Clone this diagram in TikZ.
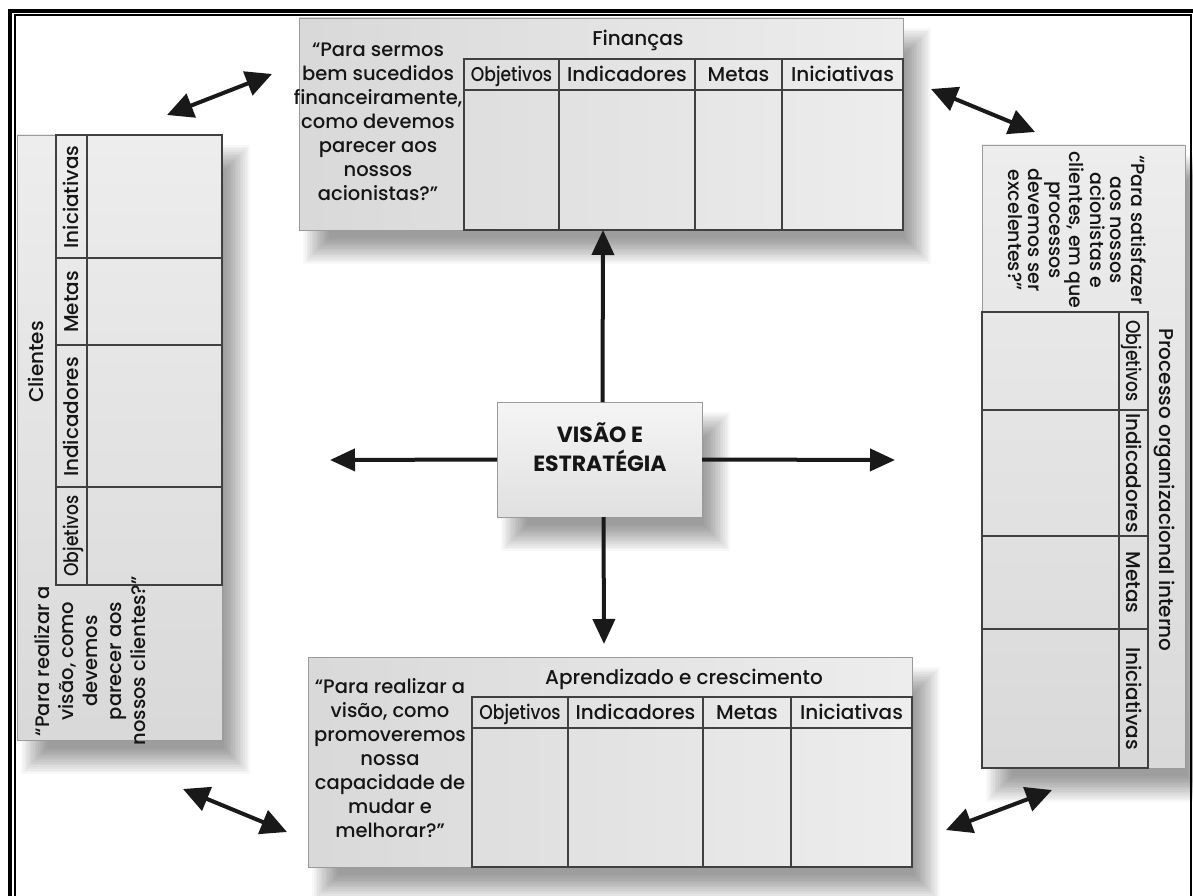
\documentclass[tikz,border=0pt]{standalone}
\usepackage{fontspec}
\setmainfont{Poppins}[UprightFont=* Medium, BoldFont=* Bold]
\usepackage{graphicx}
\usetikzlibrary{arrows.meta}
\definecolor{txt}{HTML}{151515}
\definecolor{tline}{HTML}{404040}
\definecolor{bline}{HTML}{9A9A9A}
\newcommand\softshadow[4]{%
  \foreach \k in {0,...,15}{%
    \pgfmathsetmacro\rr{(\k-8)*1.7}%
    \fill[black,opacity=0.028] ({#1+16-\rr},{#2+22-\rr}) rectangle ({#3+16+\rr},{#4+22+\rr});}}
\begin{document}
\begin{tikzpicture}[x=1pt,y=-1pt,
  hbox/.style={draw=bline, line width=0.9pt, left color=gray!30, right color=gray!14, inner sep=0pt, outer sep=0pt},
  vbox/.style={draw=bline, line width=0.9pt, top color=gray!14, bottom color=gray!30, inner sep=0pt, outer sep=0pt},
  tl/.style={draw=tline, line width=1.1pt},
  hd/.style={font=\fontsize{20}{24}\selectfont, text=txt, inner sep=0pt, text height=14.5pt, text depth=0pt, anchor=center},
  qt/.style={font=\fontsize{19.5}{24}\selectfont, text=txt, inner sep=0pt, align=center},
  arr/.style={line width=4pt, draw=black!90, -{Triangle[length=25pt,width=22pt]}},
  dbl/.style={line width=4pt, draw=black!90, {Triangle[length=26pt,width=25pt]}-{Triangle[length=26pt,width=25pt]}}]
\useasboundingbox (0,0) rectangle (1193,896);
\clip (0,0) rectangle (1193,896);
\fill[white] (0,0) rectangle (1193,896);

% frame
\draw[line width=3.8pt] (10.2,10.8) rectangle (1197,915);
\draw[line width=2pt] (15,15) rectangle (1191.3,905);

% shadows
\softshadow{299}{18}{903}{230}
\softshadow{308}{657}{912}{867}
\softshadow{17}{135}{222}{740}
\softshadow{982}{145}{1185}{768}
\softshadow{497}{402}{702}{517}

% ---------- Financas ----------
\node[hbox, minimum width=604pt, minimum height=212pt] (fin) at (601,124) {};
\draw[tl] (464,59) rectangle (903,230);
\draw[tl] (464,90) -- (903,90);
\foreach \x in {559,695,782} \draw[tl] (\x,59) -- (\x,230);
\node[hd] (finT) at (638,38) {Finanças};
\node[hd] (finO) at (511.5,74.5) {\scalebox{0.86}[1]{Objetivos}};
\node[hd] (finI) at (627,74.5) {Indicadores};
\node[hd] (finM) at (738.5,74.5) {Metas};
\node[hd] (finN) at (842.5,74.5) {Iniciativas};
\node[qt] (finQ) at (378,122) {“Para sermos\\bem sucedidos\\financeiramente,\\como devemos\\parecer aos\\nossos\\acionistas?”};

% ---------- Aprendizado ----------
\node[hbox, minimum width=604pt, minimum height=210pt] (apr) at (610,762) {};
\draw[tl] (472,697) rectangle (912,867);
\draw[tl] (472,728) -- (912,728);
\foreach \x in {568,703,791} \draw[tl] (\x,697) -- (\x,867);
\node[hd] (aprT) at (684,677) {Aprendizado e crescimento};
\node[hd] (aprO) at (520,712.5) {\scalebox{0.86}[1]{Objetivos}};
\node[hd] (aprI) at (635.5,712.5) {Indicadores};
\node[hd] (aprM) at (747,712.5) {Metas};
\node[hd] (aprN) at (851.5,712.5) {Iniciativas};
\node[qt] (aprQ) at (390,758) {“Para realizar a\\visão, como\\promoveremos\\nossa\\capacidade de\\mudar e\\melhorar?”};

% ---------- Clientes (left) ----------
\node[vbox, minimum width=205pt, minimum height=605pt] (cli) at (119.5,437.5) {};
\draw[tl] (56,135) rectangle (222,585);
\draw[tl] (87,135) -- (87,585);
\foreach \y in {258,345,487} \draw[tl] (56,\y) -- (222,\y);
\node[hd, rotate=90] (cliT) at (36.5,362) {Clientes};
\node[hd, rotate=90] (cliN) at (71.5,197) {Iniciativas};
\node[hd, rotate=90] (cliM) at (71.5,302) {Metas};
\node[hd, rotate=90] (cliI) at (71.5,417) {Indicadores};
\node[hd, rotate=90] (cliO) at (71.5,536) {\scalebox{0.86}[1]{Objetivos}};
\node[qt, rotate=90] (cliQ) at (90,661) {“Para realizar a\\visão, como\\devemos\\parecer aos\\nossos clientes?”};

% ---------- Processo (right) ----------
\node[vbox, minimum width=203pt, minimum height=623pt] (proc) at (1083.5,456.5) {};
\draw[tl] (982,312) rectangle (1148,768);
\draw[tl] (1119,312) -- (1119,768);
\foreach \y in {410,536,629} \draw[tl] (982,\y) -- (1148,\y);
\node[hd, rotate=-90] (procT) at (1166.5,490) {Processo organizacional interno};
\node[hd, rotate=-90] (procO) at (1133.5,361) {\scalebox{0.86}[1]{Objetivos}};
\node[hd, rotate=-90] (procI) at (1133.5,473) {Indicadores};
\node[hd, rotate=-90] (procM) at (1133.5,582.5) {Metas};
\node[hd, rotate=-90] (procN) at (1133.5,698.5) {Iniciativas};
\node[qt, rotate=-90, font=\fontsize{19}{20.5}\selectfont] (procQ) at (1077,230) {“Para satisfazer\\aos nossos\\acionistas e\\clientes, em que\\processos\\devemos ser\\excelentes?”};

% ---------- centre ----------
\node[draw=bline, line width=0.9pt, top color=gray!8, bottom color=gray!24, inner sep=0pt, outer sep=0pt, minimum width=205pt, minimum height=115pt] (c) at (599.5,459.5) {};
\node[font=\fontsize{22}{29}\selectfont\bfseries, text=txt, align=center, inner sep=0pt] (cT) at (600,447) {VISÃO E\\ESTRATÉGIA};

% arrow end points
\coordinate (lt) at (330,460);
\coordinate (rt) at (895,460);
\coordinate (dt) at (604,644);
\draw[arr] ([xshift=3pt]c.north) -- ([xshift=2pt]fin.south);
\draw[arr] ([xshift=4pt]c.south) -- (dt);
\draw[arr] (c.west) -- (lt);
\draw[arr] (c.east) -- (rt);

\coordinate (a1) at (167,115); \coordinate (a2) at (272,74);
\coordinate (b1) at (931,89);  \coordinate (b2) at (1035,132);
\coordinate (c1) at (183,789); \coordinate (c2) at (287,832);
\coordinate (d1) at (946,830); \coordinate (d2) at (1052,790);
\draw[dbl] (a1) -- (a2);
\draw[dbl] (b1) -- (b2);
\draw[dbl] (c1) -- (c2);
\draw[dbl] (d1) -- (d2);
\end{tikzpicture}
\end{document}
